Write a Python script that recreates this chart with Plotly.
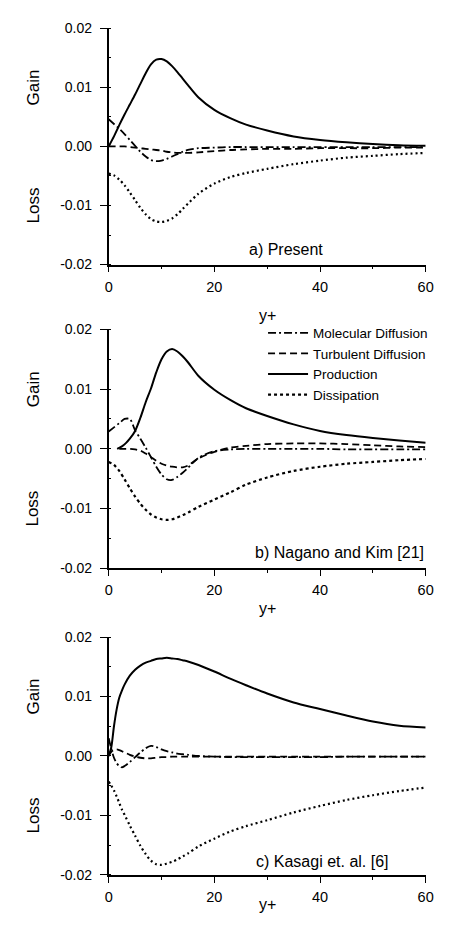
import plotly.graph_objects as go

# ---------------- data ----------------
# Panel a) Present
xa = [0, 1, 2, 3, 4, 5, 6, 7, 8, 9, 10, 11, 12, 13, 14, 15, 17, 20, 23, 26, 30, 35, 40, 45, 50, 55, 60]
a_prod = [0, 0.0017, 0.0036, 0.0054, 0.0071, 0.0088, 0.0106, 0.0124, 0.0139, 0.0147, 0.0148, 0.0144, 0.0136,
          0.0126, 0.0115, 0.0104, 0.0083, 0.0062, 0.0048, 0.0037, 0.0027, 0.0017, 0.0011, 0.0007, 0.0004, 0.0002, 0.0001]
a_mol = [0.0046, 0.0038, 0.0030, 0.0021, 0.0011, 0.0001, -0.0009, -0.0017, -0.0023, -0.0025, -0.0024, -0.0021,
         -0.0017, -0.0013, -0.0009, -0.0006, -0.0003, -0.0002, -0.0001, -0.0001, -0.0001, -0.0001, -0.0001,
         -0.0001, -0.0001, -0.0001, -0.0001]
a_turb = [0, 0, 0, 0, -0.0001, -0.0002, -0.0003, -0.0004, -0.0005, -0.0006, -0.0007, -0.0009, -0.0010, -0.0011,
          -0.0011, -0.0011, -0.0010, -0.0008, -0.0006, -0.0005, -0.0004, -0.0004, -0.0003, -0.0003, -0.0003,
          -0.0002, -0.0002]
a_diss = [-0.0046, -0.0049, -0.0056, -0.0066, -0.0078, -0.0091, -0.0104, -0.0115, -0.0123, -0.0127, -0.0128,
          -0.0126, -0.0122, -0.0115, -0.0106, -0.0097, -0.0080, -0.0063, -0.0052, -0.0045, -0.0038, -0.0030,
          -0.0024, -0.0019, -0.0016, -0.0013, -0.0011]

# Panel b) Nagano and Kim [21]
xb = [0, 1, 2, 3, 4, 5, 6, 7, 8, 9, 10, 11, 12, 13, 14, 15, 17, 20, 23, 26, 30, 35, 40, 45, 50, 55, 60]
b_prod_x = [1.6, 2.5, 3.3, 4, 5, 6, 7, 8, 9, 10, 11, 12, 13, 14, 15, 17, 20, 23, 26, 30, 35, 40, 45, 50, 55, 60]
b_prod = [0, 0.0004, 0.0010, 0.0017, 0.0030, 0.0052, 0.0078, 0.0101, 0.0128, 0.0150, 0.0163, 0.0167, 0.0163,
          0.0155, 0.0145, 0.0122, 0.0099, 0.0082, 0.0068, 0.0055, 0.0041, 0.0030, 0.0023, 0.0018, 0.0014, 0.0010]
b_mol = [0.0029, 0.0036, 0.0043, 0.0050, 0.0050, 0.0031, 0.0017, 0.0002, -0.0014, -0.0030, -0.0043, -0.0051,
         -0.0052, -0.0047, -0.0040, -0.0032, -0.0015, -0.0004, -0.0001, 0, 0, 0, 0, -0.0001, -0.0001, -0.0001,
         -0.0001]
b_turb_x = [2, 3, 4, 5, 6, 7, 8, 9, 10, 11, 12, 13, 14, 15, 17, 20, 23, 26, 30, 35, 40, 45, 50, 55, 60]
b_turb = [0, 0, 0, -0.0001, -0.0003, -0.0008, -0.0014, -0.0020, -0.0025, -0.0028, -0.0030, -0.0031, -0.0031,
          -0.0028, -0.0016, -0.0005, 0.0002, 0.0005, 0.0008, 0.0009, 0.0009, 0.0008, 0.0006, 0.0004, 0.0003]
b_diss = [-0.0022, -0.0027, -0.0037, -0.0051, -0.0066, -0.0080, -0.0092, -0.0102, -0.0110, -0.0115, -0.0118,
          -0.0119, -0.0118, -0.0115, -0.0111, -0.0107, -0.0097, -0.0085, -0.0073, -0.0060, -0.0048, -0.0037,
          -0.0030, -0.0025, -0.0022, -0.0019, -0.0017]

# Panel c) Kasagi et. al. [6]
xc = [0, 0.5, 1, 1.5, 2, 2.5, 3, 4, 5, 6, 7, 8, 9, 10, 11, 12, 13, 14, 15, 17, 20, 23, 26, 30, 35, 40, 45, 50,
      55, 60]
c_prod = [0, 0.0015, 0.0050, 0.0078, 0.0098, 0.0110, 0.0120, 0.0135, 0.0145, 0.0152, 0.0157, 0.0160, 0.0163,
          0.0164, 0.0165, 0.0164, 0.0163, 0.0161, 0.0159, 0.0153, 0.0142, 0.0130, 0.0119, 0.0105, 0.0090, 0.0079,
          0.0068, 0.0058, 0.0051, 0.0048]
c_mol = [0.0030, 0.0012, -0.0003, -0.0012, -0.0017, -0.0019, -0.0017, -0.0010, -0.0002, 0.0006, 0.0013, 0.0017,
         0.0015, 0.0011, 0.0008, 0.0006, 0.0004, 0.0003, 0.0002, 0, -0.0001, -0.0002, -0.0002, -0.0002, -0.0002,
         -0.0002, -0.0001, -0.0001, -0.0001, -0.0001]
c_turb = [0, 0.0007, 0.0010, 0.0011, 0.0010, 0.0008, 0.0006, 0.0002, -0.0001, -0.0003, -0.0004, -0.0004,
          -0.0003, -0.0002, -0.0002, -0.0001, -0.0001, -0.0001, -0.0001, -0.0001, -0.0001, -0.0001, -0.0001,
          -0.0001, -0.0001, -0.0001, -0.0001, -0.0001, -0.0001, -0.0001]
c_diss = [-0.0043, -0.0050, -0.0058, -0.0068, -0.0079, -0.0090, -0.0099, -0.0117, -0.0134, -0.0151, -0.0165,
          -0.0176, -0.0182, -0.0183, -0.0181, -0.0178, -0.0174, -0.0169, -0.0164, -0.0152, -0.0139, -0.0127,
          -0.0118, -0.0108, -0.0095, -0.0084, -0.0074, -0.0066, -0.0059, -0.0053]

series_names = ["Molecular Diffusion", "Turbulent Diffusion", "Production", "Dissipation"]
panel_labels = ["a) Present", "b) Nagano and Kim [21]", "c) Kasagi et. al. [6]"]
y_tickvals = [0.02, 0.01, 0.0, -0.01, -0.02]
y_ticktext = ["0.02", "0.01", "0.00", "-0.01", "-0.02"]
x_tickvals = [0, 20, 40, 60]
x_ticktext = ["0", "20", "40", "60"]

# ---------------- figure ----------------
FONT = "Liberation Sans, Arial, Helvetica, sans-serif"
W, H = 459, 935
fig = go.Figure()

styles = {
    "Molecular Diffusion": dict(dash="8px,3px,2px,3px", width=1.8),
    "Turbulent Diffusion": dict(dash="7px,4px", width=1.8),
    "Production": dict(dash="solid", width=2.0),
    "Dissipation": dict(dash="2px,3px", width=2.2),
}

panels = [
    ("", [(xa, a_mol), (xa, a_turb), (xa, a_prod), (xa, a_diss)]),
    ("2", [(xb, b_mol), (b_turb_x, b_turb), (b_prod_x, b_prod), (xb, b_diss)]),
    ("3", [(xc, c_mol), (xc, c_turb), (xc, c_prod), (xc, c_diss)]),
]

for idx, (suffix, curves) in enumerate(panels):
    for name, (xs, ys) in zip(series_names, curves):
        st = dict(styles[name])
        if idx == 1 and name == "Dissipation":
            st["dash"] = "3px,3px"
        fig.add_trace(go.Scatter(
            x=xs, y=ys, mode="lines", name=name,
            line=dict(color="black", width=st["width"], dash=st["dash"], shape="spline", smoothing=0.8),
            xaxis="x" + suffix, yaxis="y" + suffix,
            showlegend=(idx == 1), hoverinfo="skip",
        ))

# panel pixel geometry (top of 0.02 and bottom of -0.02)
panel_px = [(20.7, 261.0), (327.0, 570.0), (640.0, 882.0)]
x_dom = [107.5 / W, 433.0 / W]

axis_common = dict(
    showline=True, linecolor="black", linewidth=1.6, mirror=False,
    showgrid=False, zeroline=False, ticks="outside", tickcolor="black",
    tickwidth=1.4, tickfont=dict(family=FONT, size=14, color="black"),
)

layout = dict(
    width=W, height=H, margin=dict(l=0, r=0, t=0, b=0),
    paper_bgcolor="white", plot_bgcolor="white",
    font=dict(family=FONT, color="black"),
    showlegend=True,
    legend=dict(
        x=266 / W, y=1 - 315 / H, xanchor="left", yanchor="top",
        bgcolor="rgba(0,0,0,0)", borderwidth=0,
        font=dict(family=FONT, size=13.5, color="black"),
        itemwidth=40, tracegroupgap=0,
    ),
)

annotations = []
for idx, (top, bot) in enumerate(panel_px):
    suffix = "" if idx == 0 else str(idx + 1)
    ydom = [1 - bot / H, 1 - top / H]
    layout["xaxis" + suffix] = dict(
        axis_common, domain=x_dom, range=[0, 60], anchor="y" + suffix,
        tickvals=x_tickvals, ticktext=x_ticktext, ticklen=6,
        tickfont=dict(family=FONT, size=14.5, color="black"),
        minor=dict(ticks="outside", dtick=10, tick0=0, ticklen=3, tickcolor="black", tickwidth=1.2),
        ticklabelstandoff=2,
    )
    layout["yaxis" + suffix] = dict(
        axis_common, domain=ydom, range=[-0.02, 0.02], anchor="x" + suffix,
        tickvals=y_tickvals, ticktext=y_ticktext, ticklen=7,
        minor=dict(ticks="inside", dtick=0.005, tick0=0, ticklen=3, tickcolor="black", tickwidth=1.2),
        ticklabelstandoff=5,
    )
    yr = "y" + suffix
    xr = "x" + suffix
    annotations.append(dict(text="Gain", x=18 / W, xref="paper", y=0.01, yref=yr, textangle=-90,
                            showarrow=False, font=dict(family=FONT, size=17, color="black")))
    annotations.append(dict(text="Loss", x=18 / W, xref="paper", y=-0.01, yref=yr, textangle=-90,
                            showarrow=False, font=dict(family=FONT, size=17, color="black")))
    annotations.append(dict(text="y+", x=30, xref=xr, y=1 - (bot + 41) / H, yref="paper",
                            showarrow=False, font=dict(family=FONT, size=16, color="black")))

annotations.append(dict(text=panel_labels[0], x=33.5, xref="x", y=-0.0175, yref="y", showarrow=False,
                        font=dict(family=FONT, size=16, color="black")))
annotations.append(dict(text=panel_labels[1], x=60, xref="x2", xanchor="right", y=-0.0173, yref="y2",
                        showarrow=False, font=dict(family=FONT, size=16, color="black")))
annotations.append(dict(text=panel_labels[2], x=40.5, xref="x3", y=-0.0177, yref="y3", showarrow=False,
                        font=dict(family=FONT, size=16, color="black")))
layout["annotations"] = annotations

fig.update_layout(**layout)
fig.write_html("out.html")
